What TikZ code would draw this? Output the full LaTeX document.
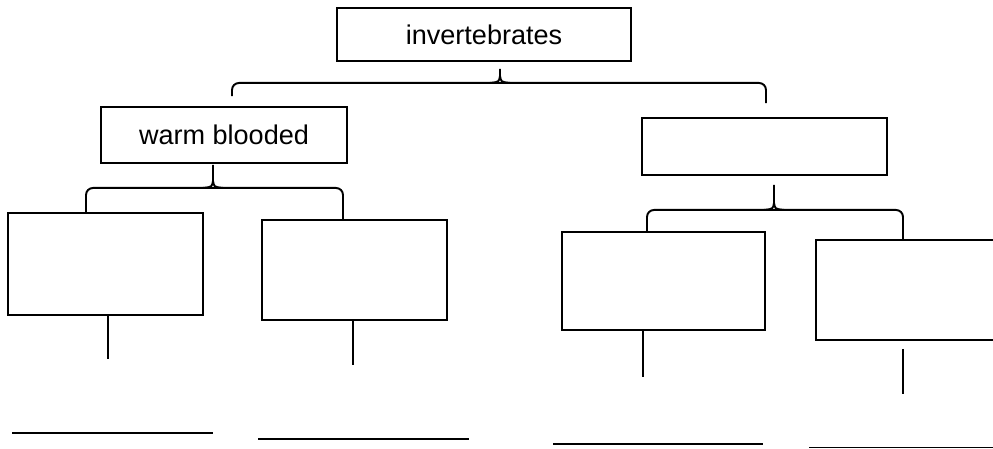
\documentclass[tikz,border=0pt]{standalone}
\usepackage{fontspec}
\setmainfont{Liberation Sans}
\usetikzlibrary{calc}

\begin{document}
\begin{tikzpicture}[x=0.02cm, y=-0.02cm, line width=1.1pt,
    box/.style={draw, rectangle, inner sep=0pt, font=\fontsize{15.4}{18}\selectfont},
    bracket/.style={rounded corners=4pt}]
\useasboundingbox (0,0) rectangle (993,449);
\clip (0,0) rectangle (993,449);

    \node (Invert) [box, minimum width=5.88cm, minimum height=1.06cm] at (484,34.5) {invertebrates};
    \node (Warm) [box, minimum width=4.92cm, minimum height=1.12cm] at (224,135) {warm blooded};
    \node (Other) [box, minimum width=4.9cm, minimum height=1.14cm] at (764.5,146.5) {};
    \node (WarmA) [box, minimum width=3.9cm, minimum height=2.04cm] at (105.5,264) {};
    \node (WarmB) [box, minimum width=3.7cm, minimum height=2cm] at (354.5,270) {};
    \node (OtherA) [box, minimum width=4.06cm, minimum height=1.96cm] at (663.5,281) {};
    \node (OtherB) [box, minimum width=4cm, minimum height=2cm] at (916,290) {};

% brace ends and tips
    \coordinate (TipI) at ($(Invert.south)+(16,7)$);
    \coordinate (HubI) at ($(TipI)+(0,14)$);
    \coordinate (LeftI) at ($(Warm.north)+(8,-10)$);
    \coordinate (RightI) at ($(Other.north)+(1.5,-14)$);
    \coordinate (TipW) at ($(Warm.south)+(-11,1)$);
    \coordinate (HubW) at ($(TipW)+(0,23)$);
    \coordinate (LeftW) at ($(WarmA.north)+(-19.5,0)$);
    \coordinate (RightW) at ($(WarmB.north)+(-11.5,0)$);
    \coordinate (TipO) at ($(Other.south)+(9.5,9)$);
    \coordinate (HubO) at ($(TipO)+(0,25)$);
    \coordinate (LeftO) at ($(OtherA.north)+(-16.5,0)$);
    \coordinate (RightO) at ($(OtherB.north)+(-13,0)$);

    \draw[bracket] (LeftI) |- (HubI) -| (RightI);
    \draw ($(HubI)+(-10,0)$) .. controls ($(HubI)+(-1,-1)$) .. ($(HubI)+(0,-7)$) -- (TipI)
          ($(HubI)+(0,-7)$) .. controls ($(HubI)+(1,-1)$) .. ($(HubI)+(10,0)$);
    \draw[bracket] (LeftW) |- (HubW) -| (RightW);
    \draw ($(HubW)+(-10,0)$) .. controls ($(HubW)+(-1,-1)$) .. ($(HubW)+(0,-7)$) -- (TipW)
          ($(HubW)+(0,-7)$) .. controls ($(HubW)+(1,-1)$) .. ($(HubW)+(10,0)$);
    \draw[bracket] (LeftO) |- (HubO) -| (RightO);
    \draw ($(HubO)+(-10,0)$) .. controls ($(HubO)+(-1,-1)$) .. ($(HubO)+(0,-7)$) -- (TipO)
          ($(HubO)+(0,-7)$) .. controls ($(HubO)+(1,-1)$) .. ($(HubO)+(10,0)$);

% stems and answer lines
    \draw ($(WarmA.south)+(2.5,0)$) -- ++(0,43);
    \draw ($(WarmB.south)+(-1.5,0)$) -- ++(0,44);
    \draw ($(OtherA.south)+(-20.5,0)$) -- ++(0,46);
    \draw ($(OtherB.south)+(-13,8)$) -- ++(0,45);
    \draw (12,433) -- (213,433);
    \draw (258,439) -- (469,439);
    \draw (553,444) -- (763,444);
    \draw (809,447.5) -- (993,447.5);

\end{tikzpicture}
\end{document}
